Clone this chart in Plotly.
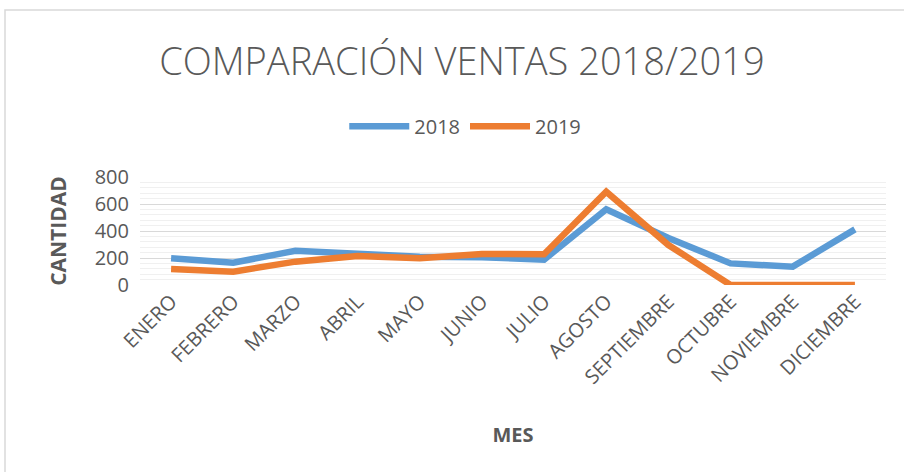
import plotly.graph_objects as go

# data
meses = ["ENERO", "FEBRERO", "MARZO", "ABRIL", "MAYO", "JUNIO", "JULIO",
         "AGOSTO", "SEPTIEMBRE", "OCTUBRE", "NOVIEMBRE", "DICIEMBRE"]
ventas_2018 = [198, 165, 254, 228, 210, 205, 188, 561, 348, 160, 136, 412]
ventas_2019 = [118, 99, 173, 215, 198, 230, 228, 691, 296, 0, 0, 0]
y_ticks = [0, 200, 400, 600, 800]

gris = "#595959"
fig = go.Figure()
fig.add_trace(go.Scatter(x=meses, y=ventas_2018, name="2018", mode="lines",
                         line=dict(color="#5b9bd5", width=6.5)))
fig.add_trace(go.Scatter(x=meses, y=ventas_2019, name="2019", mode="lines",
                         line=dict(color="#ed7d31", width=6.5)))

fig.update_layout(
    width=904, height=472,
    paper_bgcolor="white", plot_bgcolor="white",
    margin=dict(l=140, r=18, t=177, b=187, autoexpand=False),
    font=dict(family="Open Sans", color=gris),
    title=dict(text="COMPARACIÓN VENTAS 2018/2019", x=0.511, xanchor="center",
               y=0.87, yanchor="middle",
               font=dict(size=38, color=gris, family="Open Sans", weight=300)),
    legend=dict(orientation="h", x=0.436, xanchor="center", y=1.47, yanchor="middle",
                font=dict(size=20, color=gris), itemwidth=60, tracegroupgap=0),
    showlegend=True,
)
fig.update_xaxes(type="category", range=[-0.5, 11.5], tickangle=-45, automargin=False,
                 tickfont=dict(size=20, color=gris), showgrid=False,
                 showline=False, ticks="",
                 title=dict(text="<b>MES</b>", font=dict(size=20, color=gris), standoff=39))
fig.update_yaxes(range=[0, 800], tickvals=y_ticks, tickfont=dict(size=20, color=gris),
                 automargin=False, ticklabelstandoff=10,
                 showgrid=True, gridcolor="#d9d9d9", gridwidth=1,
                 minor=dict(dtick=40, showgrid=True, gridcolor="#f0f0f0", gridwidth=1),
                 zeroline=False, showline=False, ticks="",
                 title=dict(text="<b>CANTIDAD</b>", font=dict(size=21, color=gris), standoff=22))
# chart border
fig.add_shape(type="rect", xref="paper", yref="paper",
              x0=(5 - 140) / 746, x1=(910 - 140) / 746,
              y0=(285 - 480) / 108, y1=(285 - 10) / 108,
              line=dict(color="#d9d9d9", width=1.5), layer="below")

fig.write_html("out.html", config={"displayModeBar": False},
               post_script="document.body.style.margin='0';")
